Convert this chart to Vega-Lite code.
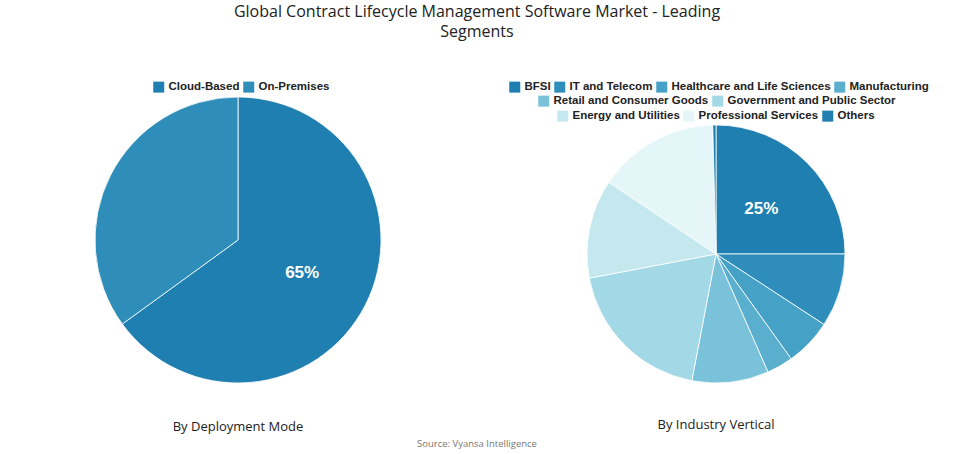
{
  "$schema": "https://vega.github.io/schema/vega-lite/v6.json",
  "background": "#ffffff",
  "padding": {"top": 4, "left": 5, "right": 5, "bottom": 0},
  "title": {
    "text": ["Global Contract Lifecycle Management Software Market - Leading", "Segments"],
    "anchor": "middle",
    "font": "Open Sans",
    "fontSize": 16,
    "fontWeight": "normal",
    "color": "#222222",
    "lineHeight": 20,
    "offset": 41
  },
  "datasets": {
    "deployment": [
      {"segment": "Cloud-Based", "share": 65, "rank": 1, "label": "65%"},
      {"segment": "On-Premises", "share": 35, "rank": 2, "label": ""}
    ],
    "vertical": [
      {"segment": "BFSI", "share": 25, "rank": 1, "label": "25%"},
      {"segment": "IT and Telecom", "share": 9.2, "rank": 2, "label": ""},
      {"segment": "Healthcare and Life Sciences", "share": 5.9, "rank": 3, "label": ""},
      {"segment": "Manufacturing", "share": 3.3, "rank": 4, "label": ""},
      {"segment": "Retail and Consumer Goods", "share": 9.6, "rank": 5, "label": ""},
      {"segment": "Government and Public Sector", "share": 19, "rank": 6, "label": ""},
      {"segment": "Energy and Utilities", "share": 12.4, "rank": 7, "label": ""},
      {"segment": "Professional Services", "share": 15.2, "rank": 8, "label": ""},
      {"segment": "Others", "share": 0.4, "rank": 9, "label": ""}
    ],
    "source": [{"text": "Source: Vyansa Intelligence"}]
  },
  "vconcat": [
    {
      "hconcat": [
        {
          "width": 466,
          "height": 286,
          "data": {"name": "deployment"},
          "title": {"text": "By Deployment Mode", "orient": "bottom", "font": "Open Sans", "fontSize": 13, "fontWeight": "normal", "color": "#222222", "offset": 36},
          "layer": [
            {
              "mark": {"type": "arc", "outerRadius": 143, "stroke": "#ffffff", "strokeWidth": 0.8},
              "encoding": {
                "theta": {"field": "share", "type": "quantitative", "stack": true},
                "order": {"field": "rank", "type": "quantitative"},
                "color": {
                  "field": "segment", "type": "nominal",
                  "scale": {"domain": ["Cloud-Based", "On-Premises"], "range": ["#1f7fb0", "#2f8dba"]},
                  "legend": {"orient": "none", "direction": "horizontal", "title": null, "legendX": 148, "legendY": -16}
                }
              }
            },
            {
              "mark": {"type": "text", "radius": 72, "font": "Liberation Sans", "fontSize": 17, "fontWeight": "bold", "fill": "#ffffff"},
              "encoding": {
                "theta": {"field": "share", "type": "quantitative", "stack": true},
                "order": {"field": "rank", "type": "quantitative"},
                "detail": {"field": "segment", "type": "nominal"},
                "text": {"field": "label", "type": "nominal"}
              }
            }
          ]
        },
        {
          "width": 466,
          "height": 314,
          "data": {"name": "vertical"},
          "title": {"text": "By Industry Vertical", "orient": "bottom", "font": "Open Sans", "fontSize": 13, "fontWeight": "normal", "color": "#222222", "offset": 8},
          "layer": [
            {
              "mark": {"type": "arc", "outerRadius": 129, "stroke": "#ffffff", "strokeWidth": 0.8},
              "encoding": {
                "theta": {"field": "share", "type": "quantitative", "stack": true},
                "order": {"field": "rank", "type": "quantitative"},
                "color": {
                  "field": "segment", "type": "nominal",
                  "scale": {
                    "domain": ["BFSI", "IT and Telecom", "Healthcare and Life Sciences", "Manufacturing", "Retail and Consumer Goods", "Government and Public Sector", "Energy and Utilities", "Professional Services", "Others"],
                    "range": ["#1f7fb0", "#2e8dbb", "#46a1c6", "#5aafcf", "#79c2da", "#a3d8e6", "#c5e8ef", "#e5f6f9", "#1f7fb0"]
                  },
                  "legend": null
                }
              }
            },
            {
              "transform": [{"filter": {"field": "segment", "oneOf": ["BFSI", "IT and Telecom", "Healthcare and Life Sciences", "Manufacturing"]}}],
              "mark": {"type": "arc", "outerRadius": 0, "innerRadius": 0},
              "encoding": {
                "theta": {"field": "share", "type": "quantitative", "stack": true},
                "color": {
                  "field": "segment", "type": "nominal",
                  "scale": {"domain": ["BFSI", "IT and Telecom", "Healthcare and Life Sciences", "Manufacturing"], "range": ["#1f7fb0", "#2e8dbb", "#46a1c6", "#5aafcf"]},
                  "legend": {"orient": "none", "direction": "horizontal", "title": null, "legendX": 26, "legendY": -16}
                }
              }
            },
            {
              "transform": [{"filter": {"field": "segment", "oneOf": ["Retail and Consumer Goods", "Government and Public Sector"]}}],
              "mark": {"type": "arc", "outerRadius": 0, "innerRadius": 0},
              "encoding": {
                "theta": {"field": "share", "type": "quantitative", "stack": true},
                "color": {
                  "field": "segment", "type": "nominal",
                  "scale": {"domain": ["Retail and Consumer Goods", "Government and Public Sector"], "range": ["#79c2da", "#a3d8e6"]},
                  "legend": {"orient": "none", "direction": "horizontal", "title": null, "legendX": 55, "legendY": -2}
                }
              }
            },
            {
              "transform": [{"filter": {"field": "segment", "oneOf": ["Energy and Utilities", "Professional Services", "Others"]}}],
              "mark": {"type": "arc", "outerRadius": 0, "innerRadius": 0},
              "encoding": {
                "theta": {"field": "share", "type": "quantitative", "stack": true},
                "color": {
                  "field": "segment", "type": "nominal",
                  "scale": {"domain": ["Energy and Utilities", "Professional Services", "Others"], "range": ["#c5e8ef", "#e5f6f9", "#1f7fb0"]},
                  "legend": {"orient": "none", "direction": "horizontal", "title": null, "legendX": 74, "legendY": 13}
                }
              }
            },
            {
              "mark": {"type": "text", "radius": 64, "font": "Liberation Sans", "fontSize": 17, "fontWeight": "bold", "fill": "#ffffff"},
              "encoding": {
                "theta": {"field": "share", "type": "quantitative", "stack": true},
                "order": {"field": "rank", "type": "quantitative"},
                "detail": {"field": "segment", "type": "nominal"},
                "text": {"field": "label", "type": "nominal"}
              }
            }
          ],
          "resolve": {"scale": {"color": "independent", "theta": "independent"}}
        }
      ],
      "spacing": 12
    },
    {
      "width": 944,
      "height": 20,
      "data": {"name": "source"},
      "mark": {"type": "text", "font": "Open Sans", "fontSize": 9.5, "color": "#777777"},
      "encoding": {"text": {"field": "text", "type": "nominal"}}
    }
  ],
  "spacing": 0,
  "config": {
    "view": {"stroke": null},
    "legend": {
      "symbolType": "square",
      "symbolSize": 121,
      "symbolStrokeWidth": 0,
      "labelFont": "Liberation Sans",
      "labelFontSize": 11.5,
      "labelFontWeight": "bold",
      "labelColor": "#222222",
      "labelOffset": 4,
      "columnPadding": 3,
      "padding": 0,
      "labelLimit": 300
    }
  }
}
